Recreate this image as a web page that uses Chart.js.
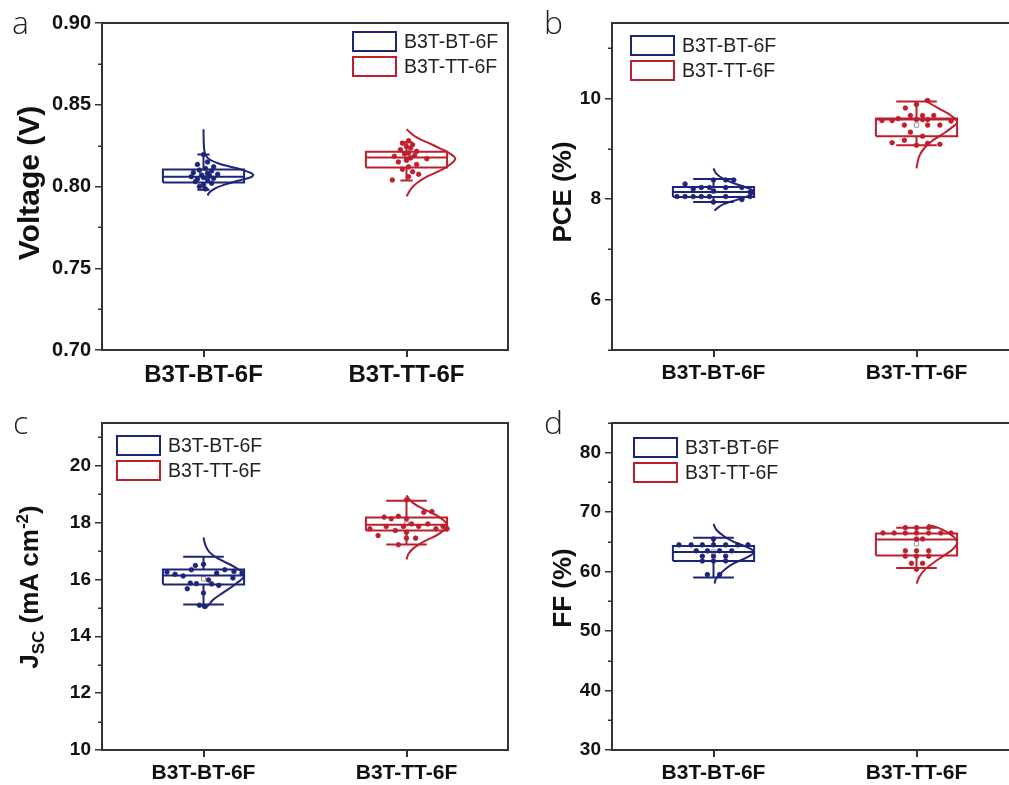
<!DOCTYPE html>
<html>
<head>
<meta charset="utf-8">
<script src="https://cdn.jsdelivr.net/npm/chart.js@4.4.1/dist/chart.umd.min.js"></script>
<style>
    body { margin: 0; background: #fff; }
    #fig { position: relative; width: 1009px; height: 785px; overflow: hidden; background: #fff; font-family: "Liberation Sans", Arial, sans-serif; }
    .panel { position: absolute; }
    .ytitle { position: absolute; transform: translate(-50%, -50%) rotate(-90deg); font-weight: bold; font-size: 26px; white-space: nowrap; color: #111; }
    .ytitle.big { font-size: 30px; }
    .ytitle sub, .ytitle sup { font-size: 17px; }
    .letter { position: absolute; font-family: "Open Sans", sans-serif; font-weight: 300; font-size: 32px; color: #222; line-height: 1; }
    .legend { position: absolute; font-size: 19.5px; color: #222; }
    .legend .row { display: flex; align-items: center; height: 25px; }
    .legend .box { display: inline-block; width: 41px; height: 17px; border: 2px solid; margin-right: 7px; }
</style>
</head>
<body>
<div id="fig">
    <div class="panel" style="left:0;top:0"><canvas id="chartVoc" width="520" height="392"></canvas></div>
    <div class="panel" style="left:520px;top:0"><canvas id="chartPce" width="520" height="392"></canvas></div>
    <div class="panel" style="left:0;top:400px"><canvas id="chartJsc" width="520" height="385"></canvas></div>
    <div class="panel" style="left:520px;top:400px"><canvas id="chartFf" width="520" height="385"></canvas></div>

    <div class="letter" style="left:12px;top:6px">a</div>
    <div class="letter" style="left:544px;top:6px">b</div>
    <div class="letter" style="left:13px;top:406px">c</div>
    <div class="letter" style="left:544px;top:406px">d</div>

    <div class="ytitle big" style="left:29px;top:183px">Voltage (V)</div>
    <div class="ytitle" style="left:562px;top:192px">PCE (%)</div>
    <div class="ytitle" style="left:31px;top:587px">J<sub>SC</sub> (mA cm<sup>-2</sup>)</div>
    <div class="ytitle" style="left:562px;top:588px">FF (%)</div>

    <div class="legend" style="left:352px;top:29px" id="legVoc"></div>
    <div class="legend" style="left:630px;top:33px" id="legPce"></div>
    <div class="legend" style="left:116px;top:433px" id="legJsc"></div>
    <div class="legend" style="left:633px;top:435px" id="legFf"></div>
</div>

<script>
const categories = ['B3T-BT-6F', 'B3T-TT-6F'];
const colors = ['#1d2479', '#be1e2d'];

// [whisker low, Q1, median, Q3, whisker high, mean]
const vocStatsBT = [0.798, 0.8024, 0.806, 0.8104, 0.8195, 0.8065];
const vocStatsTT = [0.8037, 0.8116, 0.8177, 0.8213, 0.827, 0.8175];
const pceStatsBT = [7.94, 8.04, 8.14, 8.24, 8.40, 8.16];
const pceStatsTT = [9.07, 9.25, 9.58, 9.60, 9.94, 9.47];
const jscStatsBT = [15.12, 15.82, 16.14, 16.35, 16.80, 16.02];
const jscStatsTT = [17.23, 17.72, 17.92, 18.18, 18.77, 17.95];
const ffStatsBT = [59.0, 61.8, 63.3, 64.3, 65.7, 63.3];
const ffStatsTT = [60.6, 62.7, 65.4, 66.4, 67.4, 64.7];

// individual devices (value + horizontal spread)
const vocBT = [0.8195, 0.8150, 0.8135, 0.8120, 0.8110, 0.8100, 0.8095, 0.8085, 0.8080, 0.8075, 0.8070, 0.8065, 0.8060, 0.8055, 0.8050, 0.8045, 0.8040, 0.8030, 0.8020, 0.8010, 0.8000, 0.7985];
const vocBTx = [0.00, 0.02, -0.03, 0.05, 0.01, -0.02, 0.04, -0.05, 0.02, 0.07, -0.01, 0.03, -0.06, 0.00, 0.05, -0.03, 0.02, -0.04, 0.04, 0.00, -0.02, 0.01];
const vocTT = [0.8280, 0.8265, 0.8255, 0.8245, 0.8235, 0.8225, 0.8215, 0.8205, 0.8200, 0.8190, 0.8185, 0.8175, 0.8170, 0.8160, 0.8150, 0.8135, 0.8120, 0.8105, 0.8090, 0.8075, 0.8060, 0.8040];
const vocTTx = [0.01, -0.02, 0.03, 0.00, 0.02, -0.03, 0.05, 0.01, -0.01, 0.04, -0.06, 0.02, 0.10, 0.00, -0.04, 0.05, 0.01, -0.02, 0.03, 0.06, 0.01, -0.07];

const pceBT = [8.30, 8.05, 8.05, 8.20, 8.05, 8.23, 8.05, 8.23, 8.05, 8.38, 8.16, 7.94, 8.38, 8.23, 8.05, 8.38, 8.23, 7.99, 8.05, 8.14];
const pceBTx = [-0.14, -0.18, -0.14, -0.10, -0.10, -0.06, -0.06, -0.02, -0.02, 0.00, 0.00, 0.00, 0.06, 0.06, 0.06, 0.10, 0.14, 0.14, 0.18, 0.18];
const pceTT = [9.81, 9.88, 9.96, 9.66, 9.66, 9.66, 9.56, 9.56, 9.60, 9.58, 9.58, 9.58, 9.55, 9.47, 9.47, 9.47, 9.33, 9.25, 9.12, 9.17, 9.07, 9.11, 9.09];
const pceTTx = [-0.055, 0, 0.055, -0.03, 0.03, 0.085, -0.17, -0.12, -0.09, 0, 0.03, 0.055, 0.17, -0.06, 0.055, 0.115, -0.03, 0.03, -0.12, -0.06, 0, 0.055, 0.115];

const jscBT = [16.26, 16.18, 16.12, 15.67, 16.34, 16.49, 15.85, 15.09, 16.53, 15.52, 15.98, 15.84, 16.22, 15.79, 16.34, 16.05, 16.28, 16.22, 15.05, 15.87];
const jscBTx = [-0.18, -0.14, -0.10, -0.08, -0.06, -0.04, -0.035, -0.02, 0, 0, 0.025, 0.04, 0.065, 0.075, 0.105, 0.145, 0.15, 0.19, 0.005, -0.065];
const jscTT = [17.78, 17.54, 18.19, 17.86, 18.13, 17.72, 18.22, 17.22, 17.86, 18.80, 18.13, 17.66, 17.45, 17.95, 17.45, 17.86, 18.36, 17.95, 18.39, 17.78, 17.86, 17.78];
const jscTTx = [-0.18, -0.14, -0.11, -0.10, -0.075, -0.055, -0.04, -0.04, -0.015, 0, 0, 0, 0, 0.025, 0.045, 0.06, 0.085, 0.105, 0.125, 0.145, 0.18, 0.2];

const ffBT = [64.5, 64.5, 64.5, 64.5, 64.5, 64.5, 64.5, 63.5, 63.5, 63.5, 63.5, 65.5, 62.6, 62.6, 62.6, 61.8, 61.8, 61.8, 59.5, 59.5];
const ffBTx = [-0.17, -0.11, -0.055, 0, 0.06, 0.12, 0.17, -0.085, -0.03, 0.03, 0.09, 0, -0.055, 0, 0.06, -0.055, 0, 0.06, -0.03, 0.03];
const ffTT = [66.5, 66.5, 67.4, 67.4, 67.4, 66.5, 66.5, 66.5, 66.5, 66.5, 65.5, 65.5, 63.5, 63.5, 63.5, 62.6, 62.6, 62.6, 61.4, 61.4, 60.4];
const ffTTx = [-0.165, -0.11, -0.055, 0, 0.06, -0.055, 0, 0.06, 0.12, 0.17, 0, 0.03, -0.055, 0, 0.06, -0.055, 0, 0.06, -0.025, 0.03, 0];

// distribution curves (value, width in category units)
const vocCurveBT = [0.835, 0.825, 0.820, 0.8165, 0.8135, 0.811, 0.8085, 0.807, 0.8055, 0.8035, 0.801, 0.799, 0.7965, 0.7945];
const vocCurveBTw = [0.0, 0.002, 0.008, 0.03, 0.09, 0.17, 0.23, 0.245, 0.23, 0.17, 0.10, 0.06, 0.03, 0.02];
const vocCurveTT = [0.835, 0.830, 0.826, 0.823, 0.8205, 0.817, 0.8135, 0.810, 0.806, 0.802, 0.799, 0.794];
const vocCurveTTw = [0.0, 0.05, 0.12, 0.17, 0.21, 0.24, 0.215, 0.17, 0.10, 0.05, 0.025, 0.0];
const pceCurveBT = [8.61, 8.50, 8.40, 8.30, 8.22, 8.14, 8.06, 7.98, 7.90, 7.84, 7.77];
const pceCurveBTw = [0.0, 0.015, 0.05, 0.11, 0.17, 0.20, 0.17, 0.11, 0.05, 0.025, 0.005];
const pceCurveTT = [9.98, 9.88, 9.78, 9.66, 9.53, 9.41, 9.28, 9.15, 9.02, 8.87, 8.72, 8.61];
const pceCurveTTw = [0.04, 0.075, 0.12, 0.17, 0.20, 0.17, 0.125, 0.075, 0.04, 0.015, 0.005, 0.0];
const jscCurveBT = [17.47, 17.2, 16.95, 16.7, 16.45, 16.14, 15.85, 15.55, 15.3, 15.1, 14.98];
const jscCurveBTw = [0.0, 0.01, 0.03, 0.08, 0.15, 0.20, 0.16, 0.10, 0.05, 0.025, 0.01];
const jscCurveTT = [18.95, 18.7, 18.45, 18.2, 17.9, 17.6, 17.35, 17.1, 16.9, 16.7];
const jscCurveTTw = [0.0, 0.03, 0.09, 0.16, 0.20, 0.16, 0.09, 0.035, 0.01, 0.0];
const ffCurveBT = [68.0, 67.0, 66.0, 65.0, 64.2, 63.3, 62.3, 61.4, 60.5, 59.5, 58.8, 58.0];
const ffCurveBTw = [0.0, 0.015, 0.05, 0.10, 0.16, 0.20, 0.16, 0.10, 0.06, 0.03, 0.012, 0.005];
const ffCurveTT = [67.9, 67.2, 66.2, 65.0, 63.8, 62.6, 61.4, 60.3, 59.2, 58.0];
const ffCurveTTw = [0.055, 0.12, 0.17, 0.20, 0.18, 0.13, 0.08, 0.04, 0.015, 0.0];

const BOX_HALF = 0.2;

// borda em volta da area do grafico + ticks menores no eixo y
const framePlugin = {
    id: 'frame',
    afterDraw(chart, args, opts) {
        const { ctx, chartArea: a } = chart;
        const y = chart.scales.y;
        ctx.save();
        ctx.strokeStyle = '#333';
        ctx.lineWidth = 1.5;
        ctx.beginPath();
        for (const t of y.ticks) {
            if (opts.isMajor(t.value)) continue;
            const py = Math.round(y.getPixelForValue(t.value)) + 0.25;
            ctx.moveTo(a.left, py);
            ctx.lineTo(a.left - 4, py);
        }
        ctx.stroke();
        ctx.lineWidth = 2;
        ctx.strokeRect(a.left, a.top, a.right - a.left, a.bottom - a.top);
        ctx.restore();
    }
};

function boxLines(center, s, capHalf) {
    const [lo, q1, med, q3, hi] = s;
    const gap = { x: null, y: null };
    return [
        { x: center - BOX_HALF, y: q1 }, { x: center + BOX_HALF, y: q1 }, { x: center + BOX_HALF, y: q3 },
        { x: center - BOX_HALF, y: q3 }, { x: center - BOX_HALF, y: q1 }, gap,
        { x: center - BOX_HALF, y: med }, { x: center + BOX_HALF, y: med }, gap,
        { x: center, y: q3 }, { x: center, y: hi }, gap,
        { x: center, y: q1 }, { x: center, y: lo }, gap,
        { x: center - capHalf, y: hi }, { x: center + capHalf, y: hi }, gap,
        { x: center - capHalf, y: lo }, { x: center + capHalf, y: lo }
    ];
}

function groupDatasets(i, stats, vals, offs, curve, curveW, capHalf) {
    const center = i + 1;
    const color = colors[i];
    return [
        {
            label: categories[i], data: boxLines(center, stats, capHalf), showLine: true, spanGaps: false,
            borderColor: color, borderWidth: 2, pointRadius: 0, tension: 0
        },
        {
            label: categories[i] + ' curve', data: curve.map((v, k) => ({ x: center + curveW[k], y: v })),
            showLine: true, borderColor: color, borderWidth: 2, pointRadius: 0, tension: 0.4
        },
        {
            label: categories[i] + ' data', data: vals.map((v, k) => ({ x: center + offs[k], y: v })),
            pointRadius: 2.3, backgroundColor: color, borderColor: color, borderWidth: 0.8
        },
        {
            label: categories[i] + ' mean', data: [{ x: center, y: stats[5] }],
            pointStyle: 'rect', pointRadius: 3, backgroundColor: 'rgba(255,255,255,0)', borderColor: '#999', borderWidth: 1
        }
    ];
}

function makePanel(id, cfg) {
    const isMajor = (v) => Math.abs(v / cfg.major - Math.round(v / cfg.major)) < 1e-6;
    new Chart(document.getElementById(id), {
        type: 'scatter',
        data: { datasets: [...groupDatasets(0, ...cfg.bt), ...groupDatasets(1, ...cfg.tt)] },
        options: {
            responsive: false,
            animation: false,
            events: [],
            layout: { padding: cfg.padding },
            plugins: { legend: { display: false }, tooltip: { enabled: false }, frame: { isMajor } },
            scales: {
                x: {
                    type: 'linear', min: 0.5, max: 2.5,
                    afterBuildTicks: (scale) => { scale.ticks = [{ value: 1 }, { value: 2 }]; },
                    afterFit: (scale) => { scale.height = cfg.xHeight; },
                    ticks: {
                        autoSkip: false, maxRotation: 0, padding: 4, color: '#111',
                        font: { family: '"Liberation Sans", Arial', weight: 'bold', size: cfg.xFont },
                        callback: (v) => categories[Math.round(v) - 1]
                    },
                    grid: { drawOnChartArea: false, tickLength: 7, color: '#333', lineWidth: 2 },
                    border: { color: '#333', width: 2 }
                },
                y: {
                    min: cfg.min, max: cfg.max,
                    afterFit: (scale) => { scale.width = cfg.yWidth; },
                    ticks: {
                        stepSize: cfg.step, includeBounds: false, autoSkip: false, padding: 4, color: '#111',
                        font: { family: '"Liberation Sans", Arial', weight: 'bold', size: cfg.yFont },
                        callback: (v) => isMajor(v) ? v.toFixed(cfg.decimals) : ''
                    },
                    grid: {
                        drawOnChartArea: false, tickLength: 7, color: '#333', lineWidth: 1.5,
                        tickColor: (c) => (c.tick && isMajor(c.tick.value)) ? '#333' : 'rgba(0,0,0,0)'
                    },
                    border: { color: '#333', width: 2 }
                }
            }
        },
        plugins: [framePlugin]
    });
}

function makeLegend(id) {
    const el = document.getElementById(id);
    categories.forEach((c, i) => {
        el.innerHTML += `<div class="row"><span class="box" style="border-color:${colors[i]}"></span>${c}</div>`;
    });
}

makePanel('chartVoc', {
    min: 0.70, max: 0.90, step: 0.025, major: 0.05, decimals: 2,
    padding: { left: 0, top: 23, right: 12, bottom: 0 }, yWidth: 102, xHeight: 42, xFont: 24, yFont: 20,
    bt: [vocStatsBT, vocBT, vocBTx, vocCurveBT, vocCurveBTw, 0.03],
    tt: [vocStatsTT, vocTT, vocTTx, vocCurveTT, vocCurveTTw, 0.03]
});
makePanel('chartPce', {
    min: 5, max: 11.5, step: 1, major: 2, decimals: 0,
    padding: { left: 0, top: 23, right: 22, bottom: 0 }, yWidth: 92, xHeight: 42, xFont: 21, yFont: 19,
    bt: [pceStatsBT, pceBT, pceBTx, pceCurveBT, pceCurveBTw, 0.1],
    tt: [pceStatsTT, pceTT, pceTTx, pceCurveTT, pceCurveTTw, 0.1]
});
makePanel('chartJsc', {
    min: 10, max: 21.5, step: 1, major: 2, decimals: 0,
    padding: { left: 0, top: 23, right: 12, bottom: 0 }, yWidth: 102, xHeight: 35, xFont: 21, yFont: 19,
    bt: [jscStatsBT, jscBT, jscBTx, jscCurveBT, jscCurveBTw, 0.1],
    tt: [jscStatsTT, jscTT, jscTTx, jscCurveTT, jscCurveTTw, 0.1]
});
makePanel('chartFf', {
    min: 30, max: 85, step: 5, major: 10, decimals: 0,
    padding: { left: 0, top: 23, right: 22, bottom: 0 }, yWidth: 92, xHeight: 35, xFont: 21, yFont: 19,
    bt: [ffStatsBT, ffBT, ffBTx, ffCurveBT, ffCurveBTw, 0.1],
    tt: [ffStatsTT, ffTT, ffTTx, ffCurveTT, ffCurveTTw, 0.1]
});

['legVoc', 'legPce', 'legJsc', 'legFf'].forEach(makeLegend);
</script>
</body>
</html>
